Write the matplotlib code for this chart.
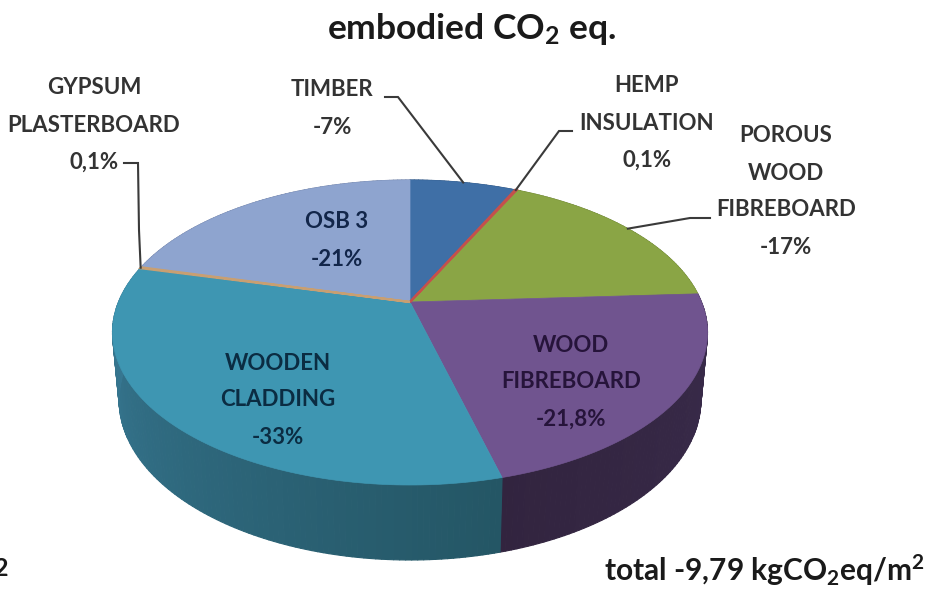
import numpy as np
import matplotlib
matplotlib.use("Agg")
import matplotlib.pyplot as plt
from matplotlib.collections import PolyCollection

plt.rcParams['font.family'] = ['Lato', 'DejaVu Sans']
plt.rcParams['mathtext.default'] = 'regular'

# clockwise from 12 o'clock
names = ["TIMBER", "HEMP\nINSULATION", "POROUS\nWOOD\nFIBREBOARD", "WOOD\nFIBREBOARD",
         "WOODEN\nCLADDING", "GYPSUM\nPLASTERBOARD", "OSB 3"]
shares = [-7, 0.1, -17, -21.8, -33, 0.1, -21]
top_colors = ["#3f6fa6", "#c4504c", "#8aa545", "#70548f", "#3e96b2", "#c89f72", "#8ea4cf"]
wall_start = ["#2d507a", "#8a3634", "#62762f", "#3a2c4c", "#245665", "#8e6f4e", "#66769a"]
wall_end = ["#2d507a", "#8a3634", "#62762f", "#32243f", "#3a7d99", "#8e6f4e", "#66769a"]
text_colors = ["#333333", "#333333", "#333333", "#26143a", "#0b2c42", "#333333", "#12264a"]

# label centre (x of every line, y of first line), in pixels
label_pos = [(332, 90), (647, 86), (786, 136), (571, 345), (278, 363), (94, 88), (337, 222)]
# leader elbows, from the text out to the rim
leaders = {0: [(385, 97), (398, 97)], 1: [(572, 131), (559, 131)],
           2: [(710, 218), (690, 218)], 5: [(124, 163), (138, 163), (139, 230)]}
line_step = 37


def project(theta, cx, cy, a, b, k=0.2):
    # perspective view of a horizontal disc, theta clockwise from the back
    u, v = np.sin(theta), np.cos(theta)
    d = 1 + k * v
    return cx + a * u / d, cy - b * v / d


def top(theta):
    return project(theta, 410, 302, 291.5, 146.4)


def bottom(theta):
    return project(theta, 410, 368, 285, 153.6)


def lerp_color(c1, c2, f):
    c1 = np.array(matplotlib.colors.to_rgb(c1))
    c2 = np.array(matplotlib.colors.to_rgb(c2))
    return c1 + (c2 - c1) * f


def pct(v):
    return f"{v:g}%".replace(".", ",")


fig = plt.figure(figsize=(9.44, 6.05), dpi=100)
ax = fig.add_axes([0, 0, 1, 1])
ax.set_xlim(0, 944)
ax.set_ylim(605, 0)
ax.axis('off')

sizes = np.abs(shares)
edges = np.concatenate([[0], np.cumsum(sizes)]) / sizes.sum() * 2 * np.pi

# side wall first, small quads so the shade can run along the rim
for i in range(len(shares)):
    t = np.linspace(edges[i], edges[i + 1], max(2, int((edges[i + 1] - edges[i]) * 60)))
    quads, cols = [], []
    for j in range(len(t) - 1):
        x1, y1 = top(t[j:j + 2])
        x2, y2 = bottom(t[j:j + 2])
        quads.append(list(zip(x1, y1)) + list(zip(x2[::-1], y2[::-1])))
        cols.append(lerp_color(wall_start[i], wall_end[i], j / len(t)))
    ax.add_collection(PolyCollection(quads, facecolors=cols, edgecolors=cols, linewidths=0.8, zorder=2))

# top face
for i in range(len(shares)):
    t = np.linspace(edges[i], edges[i + 1], 120)
    x, y = top(t)
    x = np.concatenate([[410], x])
    y = np.concatenate([[302], y])
    thin = sizes[i] < 1
    ax.fill(x, y, facecolor=top_colors[i], edgecolor=top_colors[i],
            linewidth=1.6 if thin else 0.5, zorder=4 if thin else 3)

# leader lines end on the rim at the middle of their slice
for i, pts in leaders.items():
    rim = top((edges[i] + edges[i + 1]) / 2)
    xs = [p[0] for p in pts] + [rim[0]]
    ys = [p[1] for p in pts] + [rim[1]]
    ax.plot(xs, ys, color="#3a3a3a", lw=1.5, zorder=5, solid_joinstyle='miter')

for name, v, (x, y), col in zip(names, shares, label_pos, text_colors):
    for n, line in enumerate(name.split("\n") + [pct(v)]):
        ax.text(x, y + n * line_step, line, ha='center', va='center', fontsize=16,
                fontweight='bold', color=col, zorder=6)

ax.text(472, 29, r"embodied CO$_2$ eq.", ha='center', va='center', fontsize=25.5,
        fontweight='bold', color="#1a1a1a")
ax.text(925, 570, r"total -9,79 kgCO$_2$eq/m$^2$", ha='right', va='center', fontsize=21.5,
        fontweight='bold', color="#1a1a1a")
ax.text(-6, 569, "2", ha='left', va='center', fontsize=18, fontweight='bold', color="#1a1a1a")

fig.savefig("out.png", dpi=100)
